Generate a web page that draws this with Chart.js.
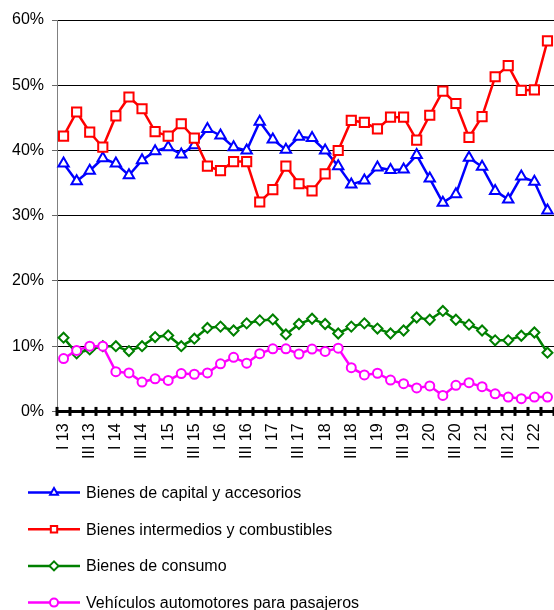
<!DOCTYPE html>
<html>
<head>
<meta charset="utf-8">
<script src="https://cdn.jsdelivr.net/npm/chart.js@4.4.1/dist/chart.umd.min.js"></script>
<style>
  html, body { margin: 0; padding: 0; background: #fff; }
  #wrap { width: 554px; height: 610px; position: relative; }
</style>
</head>
<body>
<div id="wrap"><canvas id="usoChart"></canvas></div>
<script>
// Quarters, I 13 .. II 22
const quarters = [
    'I 13', 'II 13', 'III 13', 'IV 13',
    'I 14', 'II 14', 'III 14', 'IV 14',
    'I 15', 'II 15', 'III 15', 'IV 15',
    'I 16', 'II 16', 'III 16', 'IV 16',
    'I 17', 'II 17', 'III 17', 'IV 17',
    'I 18', 'II 18', 'III 18', 'IV 18',
    'I 19', 'II 19', 'III 19', 'IV 19',
    'I 20', 'II 20', 'III 20', 'IV 20',
    'I 21', 'II 21', 'III 21', 'IV 21',
    'I 22', 'II 22'
];

// Share of total (%)
const bienesCapital = [38.0, 35.3, 36.9, 38.8, 38.0, 36.2, 38.5, 39.9, 40.5, 39.4,
    40.8, 43.3, 42.3, 40.5, 40.0, 44.4, 41.7, 40.1, 42.1, 41.9,
    40.0, 37.6, 34.8, 35.4, 37.4, 37.0, 37.1, 39.3, 35.7, 32.0,
    33.3, 38.9, 37.5, 33.8, 32.5, 36.0, 35.2, 30.8];
const bienesIntermedios = [42.2, 45.9, 42.8, 40.5, 45.3, 48.2, 46.4, 42.9, 42.2, 44.1,
    41.9, 37.6, 36.9, 38.3, 38.3, 32.1, 34.0, 37.6, 34.9, 33.8,
    36.4, 40.0, 44.6, 44.3, 43.3, 45.1, 45.1, 41.6, 45.4, 49.1,
    47.2, 42.0, 45.2, 51.3, 53.0, 49.2, 49.3, 56.8];
const bienesConsumo = [11.3, 8.9, 9.5, 10.0, 10.0, 9.25, 10.0, 11.4, 11.65, 10.0,
    11.15, 12.8, 13.0, 12.4, 13.5, 13.95, 14.1, 11.8, 13.4, 14.2,
    13.4, 11.95, 13.0, 13.5, 12.7, 11.95, 12.4, 14.4, 14.05, 15.4,
    14.05, 13.3, 12.4, 10.9, 10.9, 11.6, 12.1, 9.0];
const vehiculos = [8.1, 9.35, 10.0, 10.0, 6.1, 5.9, 4.5, 5.0, 4.75, 5.8,
    5.7, 5.9, 7.3, 8.3, 7.4, 8.85, 9.6, 9.6, 8.8, 9.55,
    9.2, 9.7, 6.7, 5.6, 5.85, 4.8, 4.25, 3.6, 3.9, 2.45,
    4.0, 4.4, 3.8, 2.7, 2.2, 1.95, 2.2, 2.2];

const seriesNames = [
    'Bienes de capital y accesorios',
    'Bienes intermedios y combustibles',
    'Bienes de consumo',
    'Vehículos automotores para pasajeros'
];

const FONT = "'Liberation Sans', Arial, sans-serif";
Chart.defaults.font.family = FONT;
Chart.defaults.font.size = 16;
Chart.defaults.color = '#000';

// Crossing tick marks on the 0% axis, at category boundaries
const axisTicks = {
    id: 'axisTicks',
    afterDraw(chart) {
        const xs = chart.scales.x;
        const y0 = chart.scales.y.getPixelForValue(0);
        const n = chart.data.labels.length;
        const ctx = chart.ctx;
        ctx.save();
        ctx.fillStyle = '#000';
        for (let i = 0; i <= n; i++) {
            const px = xs.left + i * xs.width / n;
            ctx.fillRect(Math.round(px) - 1.5, y0 - 4.5, 3, 9);
        }
        ctx.restore();
    }
};

// Excel-style legend: one entry per row, line with marker in the middle
const rowLegend = {
    id: 'rowLegend',
    afterDraw(chart) {
        const ctx = chart.ctx;
        ctx.save();
        chart.data.datasets.forEach((ds, i) => {
            const y = 492.5 + i * 36.7;
            ctx.strokeStyle = ds.borderColor;
            ctx.lineWidth = 2.5;
            ctx.beginPath();
            ctx.moveTo(28, y);
            ctx.lineTo(80, y);
            ctx.stroke();
            ctx.fillStyle = '#fff';
            ctx.lineWidth = 2;
            Chart.helpers.drawPoint(ctx, {
                pointStyle: ds.pointStyle,
                radius: ds.pointStyle === 'circle' ? 4 : 4.5,
                borderWidth: 2,
                rotation: 0
            }, 54, y);
            ctx.fillStyle = '#000';
            ctx.font = '16px ' + FONT;
            ctx.textBaseline = 'middle';
            ctx.textAlign = 'left';
            ctx.fillText(ds.label, 86, y + 1);
        });
        ctx.restore();
    }
};

function makeSet(label, data, color, style, radius, order) {
    return {
        label: label,
        data: data,
        borderColor: color,
        backgroundColor: '#fff',
        borderWidth: 2.5,
        pointStyle: style,
        pointRadius: radius,
        pointBorderWidth: 2,
        pointBackgroundColor: '#fff',
        pointBorderColor: color,
        tension: 0,
        order: order
    };
}

const ctx = document.getElementById('usoChart').getContext('2d');
new Chart(ctx, {
    type: 'line',
    data: {
        labels: quarters,
        datasets: [
            makeSet(seriesNames[0], bienesCapital, '#0000FF', 'triangle', 6, 4),
            makeSet(seriesNames[1], bienesIntermedios, '#FF0000', 'rect', 6.5, 3),
            makeSet(seriesNames[2], bienesConsumo, '#008000', 'rectRot', 5, 2),
            makeSet(seriesNames[3], vehiculos, '#FF00FF', 'circle', 4.5, 1)
        ]
    },
    options: {
        responsive: true,
        maintainAspectRatio: false,
        animation: false,
        layout: { autoPadding: false, padding: { top: 20, left: 4, right: 0, bottom: 139 } },
        plugins: {
            legend: { display: false },
            title: { display: false },
            tooltip: { enabled: false }
        },
        scales: {
            x: {
                offset: true,
                grid: { display: false, drawTicks: false },
                border: { display: true, color: '#000', width: 3 },
                afterFit: function(scale) {
                    // no extra side padding for the rotated end labels
                    scale.paddingLeft = 0;
                    scale.paddingRight = 0;
                },
                ticks: {
                    autoSkip: false,
                    maxRotation: 90,
                    minRotation: 90,
                    padding: 12,
                    callback: function(value, index) {
                        return index % 2 === 0 ? this.getLabelForValue(value) : '';
                    }
                }
            },
            y: {
                min: 0,
                max: 60,
                grid: { color: '#000', lineWidth: 1, tickLength: 5, tickColor: '#666' },
                border: { color: '#808080', width: 1 },
                ticks: {
                    stepSize: 10,
                    padding: 8,
                    callback: function(value) { return value + '%'; }
                }
            }
        }
    },
    plugins: [axisTicks, rowLegend]
});
</script>
</body>
</html>
